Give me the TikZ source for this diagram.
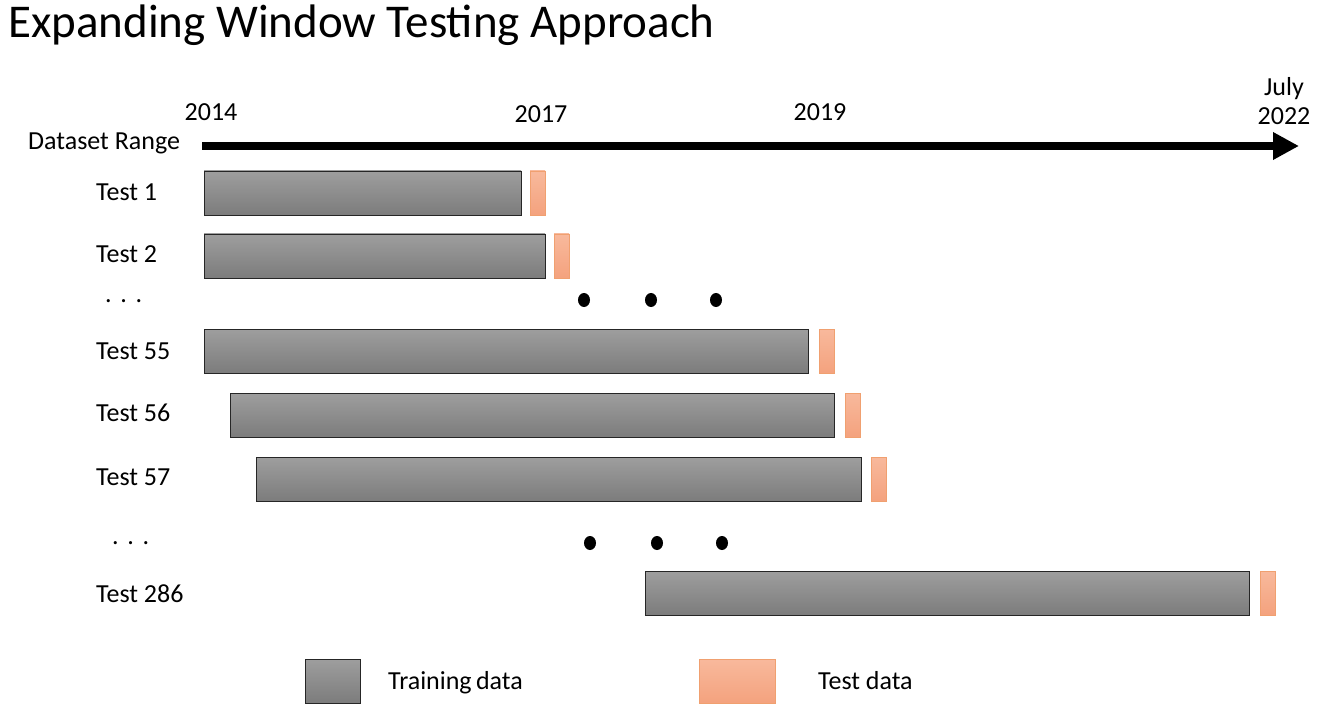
\documentclass[tikz,border=0pt]{standalone}
\usepackage{fontspec}
\setmainfont{Carlito}
\usetikzlibrary{arrows.meta,shapes.geometric}
\definecolor{grtop}{HTML}{9E9E9E}
\definecolor{grbot}{HTML}{7C7C7C}
\definecolor{ortop}{HTML}{F8B99C}
\definecolor{orbot}{HTML}{F4A27E}
\definecolor{ordraw}{HTML}{F0A070}
\begin{document}
\begin{tikzpicture}[x=1pt,y=-1pt,
  train/.style={draw=black!85,line width=0.9pt,top color=grtop,bottom color=grbot,anchor=north west,minimum height=44pt,inner sep=0pt,outer sep=0pt},
  testd/.style={draw=ordraw,line width=0.8pt,top color=ortop,bottom color=orbot,anchor=north west,minimum height=44pt,minimum width=15pt,inner sep=0pt,outer sep=0pt},
  lbl/.style={font=\fontsize{26}{29}\selectfont,anchor=base west,inner sep=0pt},
  yr/.style={font=\fontsize{26}{29}\selectfont,anchor=base,inner sep=0pt},
  bigdot/.style={fill=black,ellipse,minimum width=12pt,minimum height=14pt,inner sep=0pt}
]
\useasboundingbox (0,0) rectangle (1318,714);
\node[font=\fontsize{47}{52}\selectfont,anchor=base west,inner sep=0pt] (title) at (8,38) {Expanding Window Testing Approach};
% axis
\node[yr] (y2014) at (211,121) {2014};
\node[yr] (y2017) at (541,123) {2017};
\node[yr] (y2019) at (820,121) {2019};
\node[yr,align=center] (y2022) at (1284,125) {July\\2022};
\node[lbl] (dr) at (28,150) {Dataset Range};
\coordinate (as) at (202,146);
\coordinate (ae) at (1299,146);
\draw[line width=8pt,-{Triangle[length=26pt,width=26pt]}] (as) -- (ae);
% rows
\node[lbl] (l1) at (96,201) {Test 1};
\node[train,minimum width=317pt] (tr1) at (204,171) {};
\node[testd] (te1) at (530,171) {};
\node[lbl] (l2) at (96,263) {Test 2};
\node[train,minimum width=341pt] (tr2) at (204,234) {};
\node[testd] (te2) at (554,234) {};
\node[lbl] (d1) at (105,302) {.\,\,.\,\,.};
\node[bigdot] (p1) at (584,300) {};
\node[bigdot] (p2) at (651,300) {};
\node[bigdot] (p3) at (716,300) {};
\node[lbl] (l55) at (96,359) {Test 55};
\node[train,minimum width=604pt] (tr55) at (204,329) {};
\node[testd] (te55) at (819,329) {};
\node[lbl] (l56) at (96,421) {Test 56};
\node[train,minimum width=604pt] (tr56) at (230,393) {};
\node[testd] (te56) at (845,393) {};
\node[lbl] (l57) at (96,485) {Test 57};
\node[train,minimum width=605pt] (tr57) at (256,457) {};
\node[testd] (te57) at (871,457) {};
\node[lbl] (d2) at (112,544) {.\,\,.\,\,.};
\node[bigdot] (q1) at (590,543) {};
\node[bigdot] (q2) at (657,543) {};
\node[bigdot] (q3) at (722,543) {};
\node[lbl] (l286) at (96,602) {Test 286};
\node[train,minimum width=604pt] (tr286) at (645,571) {};
\node[testd] (te286) at (1260,571) {};
% legend
\node[train,minimum width=55pt] (lgtr) at (305,659) {};
\node[lbl] (lgtrl) at (388,689) {Training\,data};
\node[testd,minimum width=76pt] (lgte) at (699,659) {};
\node[lbl] (lgtel) at (818,689) {Test data};
\end{tikzpicture}
\end{document}
